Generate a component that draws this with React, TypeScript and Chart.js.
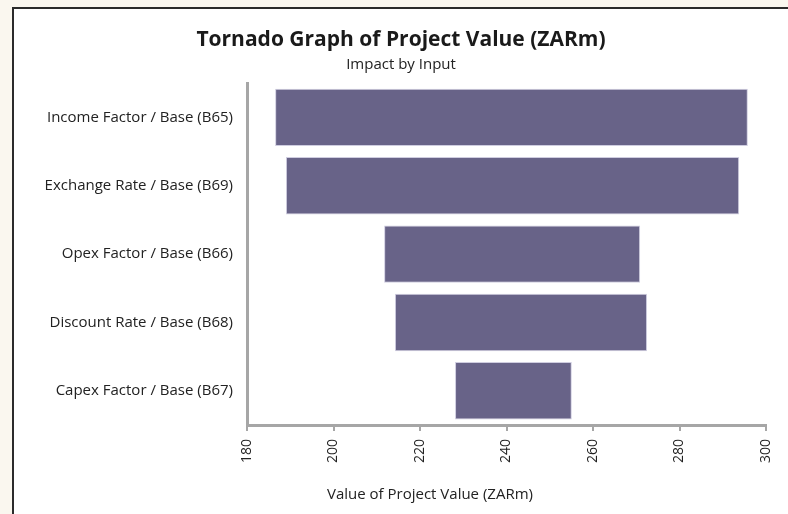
import React, { useEffect, useRef } from "react";
import { Chart, registerables } from "chart.js";

Chart.register(...registerables);

const categories = [
  "Income Factor / Base (B65)",
  "Exchange Rate / Base (B69)",
  "Opex Factor / Base (B66)",
  "Discount Rate / Base (B68)",
  "Capex Factor / Base (B67)",
];
const lowValues = [186.5, 189.0, 211.7, 214.2, 228.1];
const highValues = [295.8, 293.8, 270.9, 272.5, 255.1];
const xMin = 180;
const xMax = 300;
const xStep = 20;
const titleText = "Tornado Graph of Project Value (ZARm)";
const subtitleText = "Impact by Input";
const xTitleText = "Value of Project Value (ZARm)";

const FONT = "'Open Sans', sans-serif";

export default function App() {
  const ref = useRef<HTMLCanvasElement | null>(null);
  useEffect(() => {
    if (!ref.current) return;
    const xTitlePlugin = {
      id: "xTitle",
      afterDraw(chart: any) {
        const ctx = chart.ctx;
        ctx.save();
        ctx.font = `15px ${FONT}`;
        ctx.fillStyle = "#222";
        ctx.textAlign = "center";
        ctx.textBaseline = "middle";
        ctx.fillText(xTitleText, 416, 486);
        ctx.restore();
      },
    };
    const chart = new Chart(ref.current, {
      type: "bar",
      data: {
        labels: categories,
        datasets: [
          {
            data: categories.map((_, i) => [lowValues[i], highValues[i]]) as any,
            backgroundColor: "#686388",
            borderColor: "#cfcde0",
            borderWidth: 1,
            borderSkipped: false,
            barPercentage: 0.84,
            categoryPercentage: 1,
          },
        ],
      },
      options: {
        indexAxis: "y",
        animation: false,
        responsive: false,
        maintainAspectRatio: false,
        layout: { padding: { left: 22, right: 22, top: 0, bottom: 0 } },
        plugins: {
          legend: { display: false },
          tooltip: { enabled: false },
          title: {
            display: true,
            text: titleText,
            color: "#1a1a1a",
            font: { family: FONT, size: 21, weight: "bold" },
            padding: { top: 18, bottom: 2 },
          },
          subtitle: {
            display: true,
            text: subtitleText,
            color: "#222",
            font: { family: FONT, size: 15 },
            padding: { top: 2, bottom: 9 },
          },
        },
        scales: {
          x: {
            type: "linear",
            min: xMin,
            max: xMax,
            ticks: {
              stepSize: xStep,
              minRotation: 90,
              maxRotation: 90,
              autoSkip: false,
              color: "#222",
              padding: 8,
              font: { family: FONT, size: 14 },
            },
            grid: {
              display: true,
              drawOnChartArea: false,
              drawTicks: true,
              tickLength: 6,
              color: "#a6a6a6",
              lineWidth: 2,
            },
            border: { display: true, color: "#a6a6a6", width: 3 },
            afterFit(scale: any) {
              scale.height = 89;
              scale.paddingLeft = 0;
              scale.paddingRight = 0;
            },
          },
          y: {
            type: "category",
            ticks: {
              color: "#222",
              padding: 14,
              font: { family: FONT, size: 15 },
            },
            grid: { display: false, drawTicks: false },
            border: { display: true, color: "#a6a6a6", width: 3 },
            afterFit(scale: any) {
              scale.width = 211;
            },
          },
        },
      },
      plugins: [xTitlePlugin],
    });
    return () => chart.destroy();
  }, []);

  return (
    <div
      style={{
        position: "fixed",
        inset: 0,
        background: "#faf7ef",
        overflow: "hidden",
      }}
    >
      <div
        style={{
          position: "absolute",
          left: 12,
          top: 7,
          width: 800,
          height: 520,
          background: "#ffffff",
          borderLeft: "2px solid #2b2b2b",
          borderTop: "2px solid #2b2b2b",
        }}
      >
        <canvas ref={ref} width={774} height={505} style={{ display: "block" }} />
      </div>
    </div>
  );
}
